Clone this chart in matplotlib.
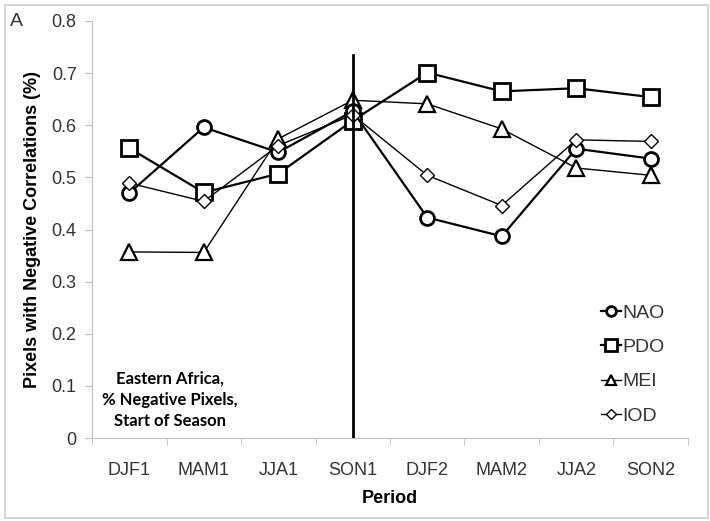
import numpy as np
import matplotlib.pyplot as plt
from matplotlib.patches import Rectangle

periods = ['DJF1', 'MAM1', 'JJA1', 'SON1', 'DJF2', 'MAM2', 'JJA2', 'SON2']
nao = [0.470, 0.596, 0.548, 0.627, 0.423, 0.387, 0.555, 0.536]
pdo = [0.556, 0.471, 0.507, 0.609, 0.701, 0.665, 0.671, 0.654]
mei = [0.357, 0.356, 0.574, 0.648, 0.641, 0.593, 0.518, 0.504]
iod = [0.489, 0.454, 0.561, 0.620, 0.504, 0.446, 0.572, 0.569]
split_top = 0.735   # height of the vertical divider at SON1

plt.rcParams['font.family'] = ['Liberation Sans', 'DejaVu Sans']

fig = plt.figure(figsize=(7.1, 5.21), dpi=100)
ax = fig.add_axes([0.1296, 0.1593, 0.8394, 0.8004])
fig.patches.append(Rectangle((0.007, 0.006), 0.99, 0.984, transform=fig.transFigure,
                             fill=False, edgecolor='#d0d0d0', lw=1.2))

x = np.arange(len(periods))
ax.plot(x, nao, '-o', color='black', lw=1.6, ms=10, mfc='white', mec='black', mew=2.0,
        label='NAO', zorder=4)
ax.plot(x, pdo, '-s', color='black', lw=1.6, ms=12, mfc='white', mec='black', mew=2.0,
        label='PDO', zorder=3)
ax.plot(x, mei, '-^', color='black', lw=1.0, ms=11, mfc='white', mec='black', mew=1.6,
        label='MEI', zorder=3)
ax.plot(x, iod, '-D', color='black', lw=1.0, ms=7, mfc='white', mec='black', mew=1.0,
        label='IOD', zorder=5)
ax.plot([3, 3], [0, split_top], color='black', lw=2.0, zorder=6)

ax.set_xlim(-0.5, 7.5)
ax.set_ylim(0, 0.8)
ax.set_yticks(np.arange(0, 0.81, 0.1))
ax.set_yticklabels(['0'] + ['%.1f' % v for v in np.arange(0.1, 0.81, 0.1)])
ax.set_xticks(x)
ax.set_xticklabels(periods)
ax.set_xticks(np.arange(-0.5, 8, 1), minor=True)
ax.tick_params(axis='x', which='major', length=0, pad=17, labelsize=13, labelcolor='#333333')
ax.tick_params(axis='x', which='minor', length=5, color='#bfbfbf', direction='out')
ax.tick_params(axis='y', length=5, color='#bfbfbf', pad=6, labelsize=13, labelcolor='#333333')
for s in ['top', 'right']:
    ax.spines[s].set_visible(False)
for s in ['left', 'bottom']:
    ax.spines[s].set_color('#bfbfbf')

ax.set_xlabel('Period', fontsize=13, fontweight='bold', labelpad=8)
ax.set_ylabel('Pixels with Negative Correlations (%)', fontsize=13, fontweight='bold', labelpad=8)

ax.text(0.55, 0.073, 'Eastern Africa,\n% Negative Pixels,\nStart of Season',
        ha='center', va='center', fontsize=12, fontweight='bold', family='Lato',
        linespacing=1.4)
fig.text(0.014, 0.958, 'A', fontsize=14, color='#333333', va='center')

ax.legend(loc='lower left', bbox_to_anchor=(0.825, -0.01), frameon=False, fontsize=14,
          markerscale=0.7, handlelength=1.0, handletextpad=0.1, labelspacing=0.86,
          labelcolor='#333333')

fig.savefig('out.png', dpi=100)
